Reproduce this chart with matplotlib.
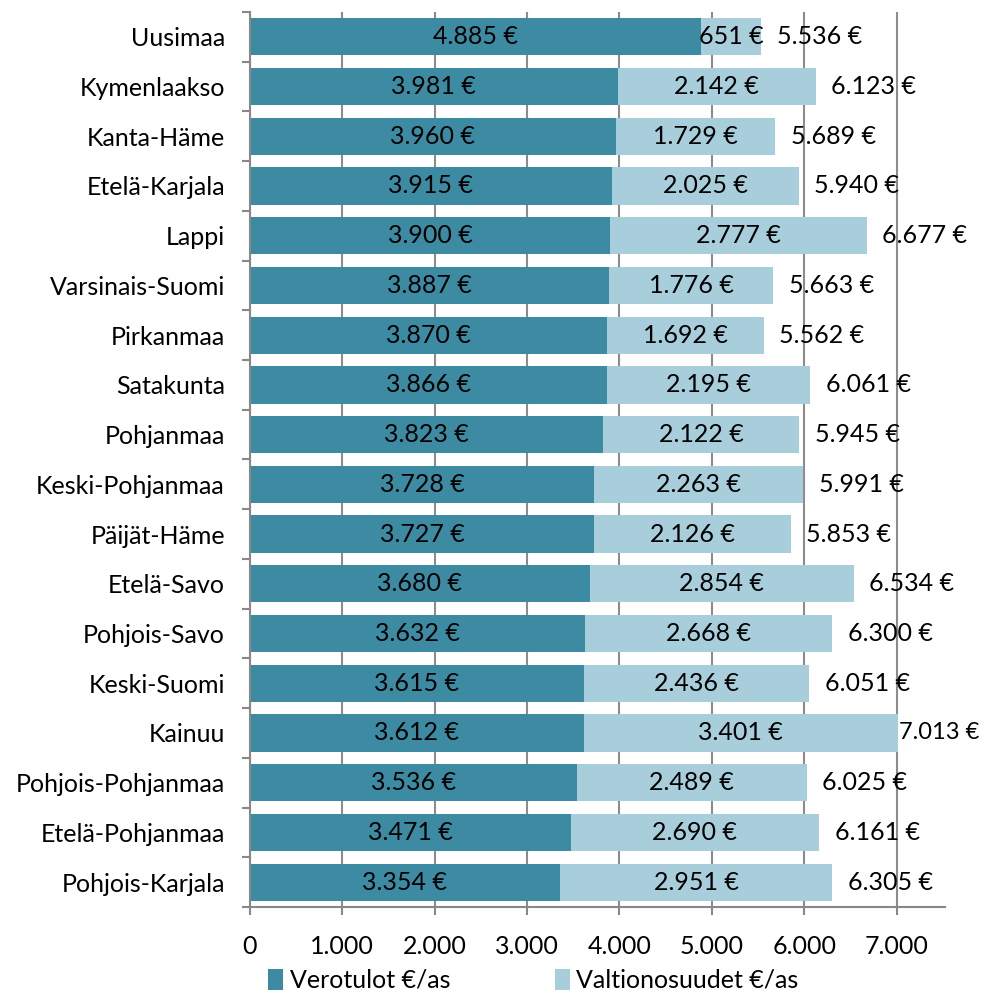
import numpy as np
import matplotlib.pyplot as plt
from matplotlib.ticker import FuncFormatter

plt.rcParams['font.family'] = ['Lato', 'DejaVu Sans']

regions = ['Uusimaa', 'Kymenlaakso', 'Kanta-Häme', 'Etelä-Karjala', 'Lappi',
           'Varsinais-Suomi', 'Pirkanmaa', 'Satakunta', 'Pohjanmaa',
           'Keski-Pohjanmaa', 'Päijät-Häme', 'Etelä-Savo', 'Pohjois-Savo',
           'Keski-Suomi', 'Kainuu', 'Pohjois-Pohjanmaa', 'Etelä-Pohjanmaa',
           'Pohjois-Karjala']
verotulot = [4885, 3981, 3960, 3915, 3900, 3887, 3870, 3866, 3823, 3728, 3727,
             3680, 3632, 3615, 3612, 3536, 3471, 3354]
valtionosuudet = [651, 2142, 1729, 2025, 2777, 1776, 1692, 2195, 2122, 2263,
                  2126, 2854, 2668, 2436, 3401, 2489, 2690, 2951]
xticks = [0, 1000, 2000, 3000, 4000, 5000, 6000, 7000]

c_dark = '#3D8BA2'
c_light = '#A8CEDC'


def eur(v):
    return f'{v:,}'.replace(',', '.') + ' €'


fig = plt.figure(figsize=(9.84, 9.94), dpi=100)
ax = fig.add_axes([0.254, 0.0875, 0.706, 0.9005])

y = np.arange(len(regions))
v1 = np.array(verotulot)
v2 = np.array(valtionosuudet)
tot = v1 + v2

ax.barh(y, v1, height=0.75, color=c_dark, label='Verotulot €/as', zorder=2)
ax.barh(y, v2, left=v1, height=0.75, color=c_light, label='Valtionosuudet €/as', zorder=2)

fs = 18
for i in range(len(regions)):
    ax.text(v1[i] / 2, y[i], eur(v1[i]), ha='center', va='center', fontsize=fs, zorder=3)
    ax.text(v1[i] + v2[i] / 2, y[i], eur(v2[i]), ha='center', va='center', fontsize=fs, zorder=3)
    if tot[i] > 6900:
        # viimeinen mahtuu juuri ja juuri kuvaan
        ax.text(tot[i] + 10, y[i], eur(tot[i]), ha='left', va='center', fontsize=fs - 1, zorder=3)
    else:
        ax.text(tot[i] + 170, y[i], eur(tot[i]), ha='left', va='center', fontsize=fs, zorder=3)

ax.set_xlim(0, 7520)
ax.set_ylim(len(regions) - 0.5, -0.5)
ax.set_xticks(xticks)
ax.xaxis.set_major_formatter(FuncFormatter(lambda v, p: f'{int(v):,}'.replace(',', '.')))
ax.set_yticks(y)
ax.set_yticklabels(regions)
ax.set_yticks(np.arange(-0.5, len(regions)), minor=True)

ax.tick_params(axis='y', which='major', length=0, pad=18, labelsize=fs)
ax.tick_params(axis='y', which='minor', length=6, width=1.5, color='#888888')
ax.tick_params(axis='x', length=6, width=1.5, color='#888888', pad=14, labelsize=fs)

ax.grid(axis='x', color='#8c8c8c', linewidth=1.5, zorder=0)
ax.set_axisbelow(True)
for s in ['top', 'right']:
    ax.spines[s].set_visible(False)
for s in ['left', 'bottom']:
    ax.spines[s].set_color('#888888')
    ax.spines[s].set_linewidth(1.5)

ax.legend(loc='lower left', bbox_to_anchor=(0.012, -0.106), ncol=2, frameon=False,
          fontsize=fs, handlelength=0.6, handleheight=0.9, handletextpad=0.25,
          columnspacing=4.2, borderaxespad=0)

fig.savefig('out.png', dpi=100)
